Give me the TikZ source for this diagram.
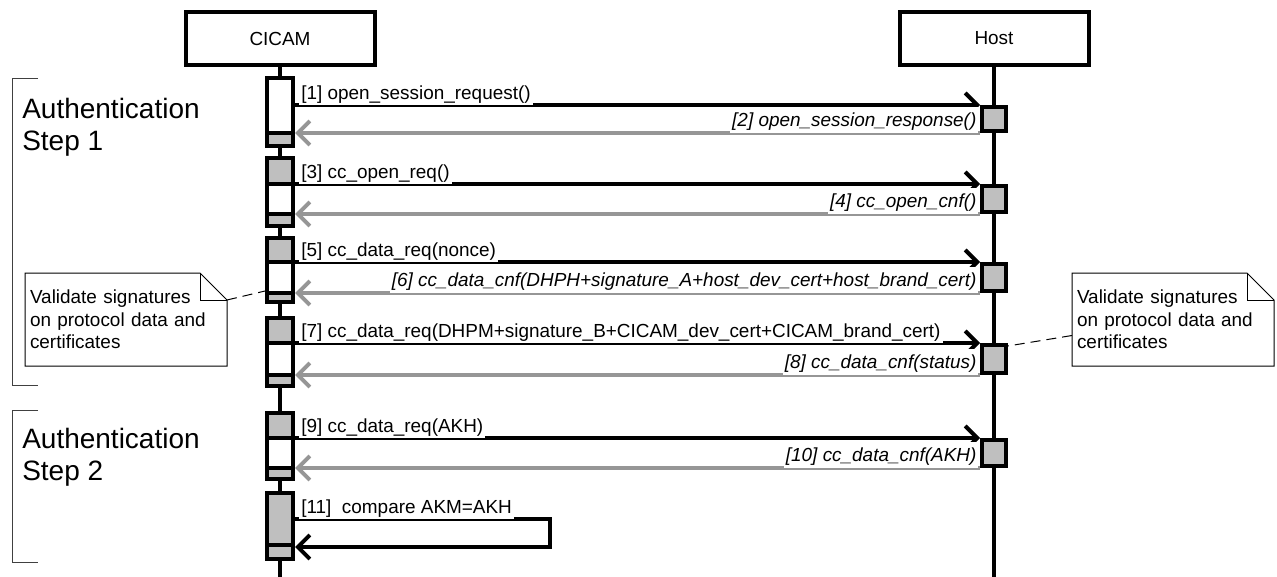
\documentclass[tikz,border=0pt]{standalone}
\usepackage{fontspec}
\setmainfont{Liberation Sans}
\usetikzlibrary{arrows.meta,positioning}
\definecolor{actgray}{RGB}{191,191,191}
\definecolor{replygray}{RGB}{150,150,150}
\newcommand{\pxu}{0.75pt}

\begin{document}
\begin{tikzpicture}[
    x=0.75pt, y=-0.75pt,
    every node/.style={font=\fontsize{14.2}{17}\selectfont},
    head/.style={draw, line width=3pt, fill=white, minimum width=189*\pxu, minimum height=53*\pxu, inner sep=0pt},
    lifeline/.style={line width=3pt},
    seg/.style={draw, line width=3pt, minimum width=26*\pxu, minimum height=#1*\pxu, inner sep=0pt},
    idle/.style={seg=#1, fill=white},
    busy/.style={seg=#1, fill=actgray},
    hostbox/.style={draw, line width=3pt, fill=actgray, minimum width=24*\pxu, minimum height=#1*\pxu, inner sep=0pt},
    msg/.style={line width=3pt, -{Straight Barb[length=9pt, width=18pt]}},
    reply/.style={msg, replygray},
    qlab/.style={anchor=south west, fill=white, inner xsep=1.5pt, inner ysep=1pt, xshift=3pt},
    rlab/.style={anchor=south east, fill=white, inner xsep=1.5pt, inner ysep=1pt, text height=14pt, text depth=3.5pt, xshift=-1pt, font=\fontsize{14.2}{17}\selectfont\itshape},
    phase/.style={anchor=north west, align=left, inner sep=0pt, font=\fontsize{21}{24}\selectfont},
    bracket/.style={line width=0.75pt, black!75},
    notetext/.style={align=left, text width=144pt, minimum height=93*\pxu, inner xsep=3.75pt, inner ysep=0pt, outer sep=0pt, font=\fontsize{14.2}{16.9}\selectfont},
    noteline/.style={line width=0.75pt},
    notelink/.style={line width=0.75pt, dash pattern=on 7.5pt off 4.5pt},
]
\useasboundingbox (0,0) rectangle (1277,577);

% lifelines
\node[head] (cicam) at (280,38.5) {CICAM};
\node[head] (host) at (994,38.5) {Host};
\coordinate (cicamend) at (280,577);
\coordinate (hostend) at (994,577);
\draw[lifeline] (cicam.south) -- (cicamend);
\draw[lifeline] (host.south) -- (hostend);

% CICAM activations
\node[idle=55] (c1m) at (280,105.5) {};
\node[busy=13] (c1b) at (280,139.5) {};
\node[busy=26] (c2t) at (280,171) {};
\node[idle=30] (c2m) at (280,199) {};
\node[busy=12] (c2b) at (280,220) {};
\node[busy=24] (c3t) at (280,250) {};
\node[idle=31] (c3m) at (280,277.5) {};
\node[busy=9] (c3b) at (280,297.5) {};
\node[busy=25] (c4t) at (280,330.5) {};
\node[idle=32] (c4m) at (280,359) {};
\node[busy=11] (c4b) at (280,380.5) {};
\node[busy=25] (c5t) at (280,425.5) {};
\node[idle=30] (c5m) at (280,453) {};
\node[busy=11] (c5b) at (280,473.5) {};
\node[busy=52] (c6t) at (280,519) {};
\node[busy=14] (c6b) at (280,552) {};

% Host activations
\node[hostbox=24] (h1) at (994,119) {};
\node[hostbox=26] (h2) at (994,199) {};
\node[hostbox=27] (h3) at (994,277.5) {};
\node[hostbox=28] (h4) at (994,359) {};
\node[hostbox=26] (h5) at (994,453) {};

% messages
\draw[msg] (h1.north west -| c1m.east) -- (h1.north west);
\draw[reply] (h1.south west) -- (h1.south west -| c1m.east);
\draw[msg] (h2.north west -| c2m.east) -- (h2.north west);
\draw[reply] (h2.south west) -- (h2.south west -| c2m.east);
\draw[msg] (h3.north west -| c3m.east) -- (h3.north west);
\draw[reply] (h3.south west) -- (h3.south west -| c3m.east);
\draw[msg] (h4.north west -| c4m.east) -- (h4.north west);
\draw[reply] (h4.south west) -- (h4.south west -| c4m.east);
\draw[msg] (h5.north west -| c5m.east) -- (h5.north west);
\draw[reply] (h5.south west) -- (h5.south west -| c5m.east);
\draw[msg] (c6t.east) -- ++(255,0) |- (c6t.south east);

\node[qlab] (l1) at (h1.north west -| c1m.east) {[1] open\_session\_request()};
\node[rlab] (l2) at (h1.south west) {[2] open\_session\_response()};
\node[qlab] (l3) at (h2.north west -| c2m.east) {[3] cc\_open\_req()};
\node[rlab] (l4) at (h2.south west) {[4] cc\_open\_cnf()};
\node[qlab] (l5) at (h3.north west -| c3m.east) {[5] cc\_data\_req(nonce)};
\node[rlab] (l6) at (h3.south west) {[6] cc\_data\_cnf(DHPH+signature\_A+host\_dev\_cert+host\_brand\_cert)};
\node[qlab] (l7) at (h4.north west -| c4m.east) {[7] cc\_data\_req(DHPM+signature\_B+CICAM\_dev\_cert+CICAM\_brand\_cert)};
\node[rlab] (l8) at (h4.south west) {[8] cc\_data\_cnf(status)};
\node[qlab] (l9) at (h5.north west -| c5m.east) {[9] cc\_data\_req(AKH)};
\node[rlab] (l10) at (h5.south west) {[10] cc\_data\_cnf(AKH)};
\node[qlab] (l11) at (c6t.east) {[11]\ \ compare AKM=AKH};

% phases
\draw[bracket] (38,79) -| (12,385) -- (38,385);
\draw[bracket] (38,410) -| (12,562) -- (38,562);
\node[phase] (step1) at (22,98) {Authentication\\Step 1};
\node[phase] (step2) at (22,428) {Authentication\\Step 2};

% notes
\node[notetext] (notel) at (126,319.5) {Validate signatures\\on protocol data and\\certificates};
\node[notetext] (noter) at (1173,319.5) {Validate signatures\\on protocol data and\\certificates};
\foreach \n in {notel,noter} {
  \draw[noteline] (\n.north west) -- ([xshift=-20.25pt]\n.north east) -- ([yshift=-20.25pt]\n.north east) -- (\n.south east) -- (\n.south west) -- cycle;
  \draw[noteline] ([xshift=-20.25pt]\n.north east) |- ([yshift=-20.25pt]\n.north east);
}
\draw[notelink] ([yshift=-20.25pt]notel.north east) -- (c3b.north west);
\draw[notelink] ([yshift=-12pt]noter.west) -- ([yshift=-2.25pt]h4.north east);
\end{tikzpicture}
\end{document}
